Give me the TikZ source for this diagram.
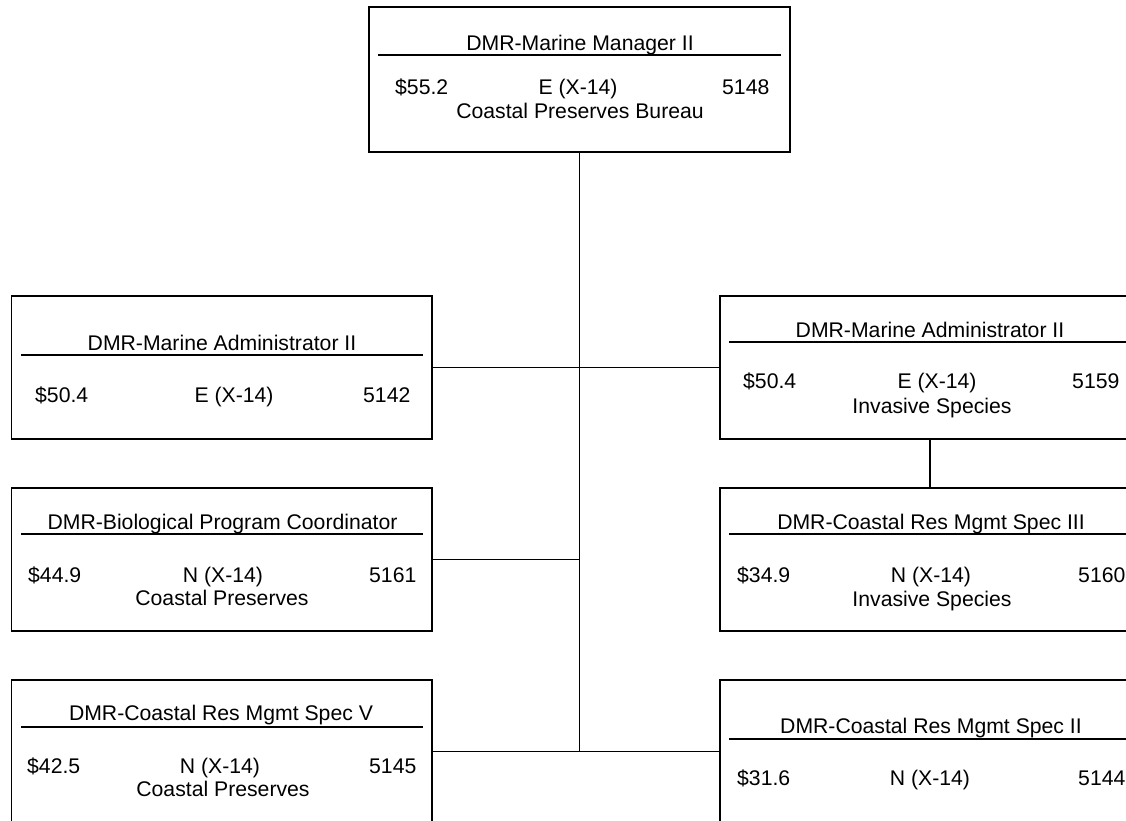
\documentclass[tikz,border=0pt]{standalone}
\usepackage{fontspec}
\setmainfont{Liberation Sans}
\begin{document}
\begin{tikzpicture}[x=1pt,y=-1pt,
  box/.style={draw, line width=1.8pt, inner sep=0pt, outer sep=0pt, anchor=north west, minimum height=143pt},
  txt/.style={inner sep=0pt, anchor=base, font=\fontsize{21.2}{25}\selectfont},
  ltxt/.style={txt, anchor=base west},
  rulex/.style={line width=1.4pt},
  conn/.style={line width=1.8pt}]
\path[use as bounding box] (0,0) rectangle (1126,821);
\clip (0,0) rectangle (1126,821);
\fill[white] (0,0) rectangle (1126,821);

% boxes
\node[box, minimum width=421pt, minimum height=145pt] (top) at (369,7) {};
\node[box, minimum width=420.5pt] (lb1) at (11.5,296) {};
\node[box, minimum width=420.5pt] (lb2) at (11.5,488) {};
\node[box, minimum width=420.5pt] (lb3) at (11.5,680) {};
\node[box, minimum width=420pt] (rb1) at (720,296) {};
\node[box, minimum width=420pt] (rb2) at (720,488) {};
\node[box, minimum width=420pt] (rb3) at (720,680) {};

% connectors
\coordinate (vb) at (579.5,751.5);
\draw[conn] (top.south) -- (top.south |- vb);
\draw[conn] (lb1.east) -- (rb1.west);
\draw[conn] (rb1.south) -- (rb2.north);
\draw[conn] (lb2.east) -- (lb2.east -| vb);
\draw[conn] (lb3.east) -- (rb3.west);

% top box
\node[txt] (tT) at (580,51) {DMR-Marine Manager II};
\draw[rulex] (378,55) -- (781,55);
\node[ltxt] (tS) at (395,95) {\$55.2};
\node[txt] (tE) at (578,95) {E (X-14)};
\node[ltxt] (tN) at (722,95) {5148};
\node[txt] (tU) at (580,119) {Coastal Preserves Bureau};

% left box 1
\node[txt] (aT) at (222,350) {DMR-Marine Administrator II};
\draw[rulex] (21,355) -- (423,355);
\node[ltxt] (aS) at (35,402) {\$50.4};
\node[txt] (aE) at (234,402) {E (X-14)};
\node[ltxt] (aN) at (363,402) {5142};

% left box 2
\node[txt] (bT) at (222.5,529) {DMR-Biological Program Coordinator};
\draw[rulex] (21,534) -- (423,534);
\node[ltxt] (bS) at (28,582) {\$44.9};
\node[txt] (bE) at (223,582) {N (X-14)};
\node[ltxt] (bN) at (369,582) {5161};
\node[txt] (bU) at (222,605) {Coastal Preserves};

% left box 3
\node[txt] (cT) at (221,720) {DMR-Coastal Res Mgmt Spec V};
\draw[rulex] (21,727) -- (423,727);
\node[ltxt] (cS) at (27,773) {\$42.5};
\node[txt] (cE) at (220,773) {N (X-14)};
\node[ltxt] (cN) at (369,773) {5145};
\node[txt] (cU) at (223,796) {Coastal Preserves};

% right box 1
\node[txt] (dT) at (930,337) {DMR-Marine Administrator II};
\draw[rulex] (729,342) -- (1131,342);
\node[ltxt] (dS) at (743,388) {\$50.4};
\node[txt] (dE) at (937,388) {E (X-14)};
\node[ltxt] (dN) at (1072,388) {5159};
\node[txt] (dU) at (932,413) {Invasive Species};

% right box 2
\node[txt] (eT) at (931,529) {DMR-Coastal Res Mgmt Spec III};
\draw[rulex] (729,534) -- (1131,534);
\node[ltxt] (eS) at (737,582) {\$34.9};
\node[txt] (eE) at (931,582) {N (X-14)};
\node[ltxt] (eN) at (1078,582) {5160};
\node[txt] (eU) at (932,606) {Invasive Species};

% right box 3
\node[txt] (fT) at (931,733) {DMR-Coastal Res Mgmt Spec II};
\draw[rulex] (729,739) -- (1131,739);
\node[ltxt] (fS) at (737,785) {\$31.6};
\node[txt] (fE) at (930,785) {N (X-14)};
\node[ltxt] (fN) at (1078,785) {5144};
\end{tikzpicture}
\end{document}
